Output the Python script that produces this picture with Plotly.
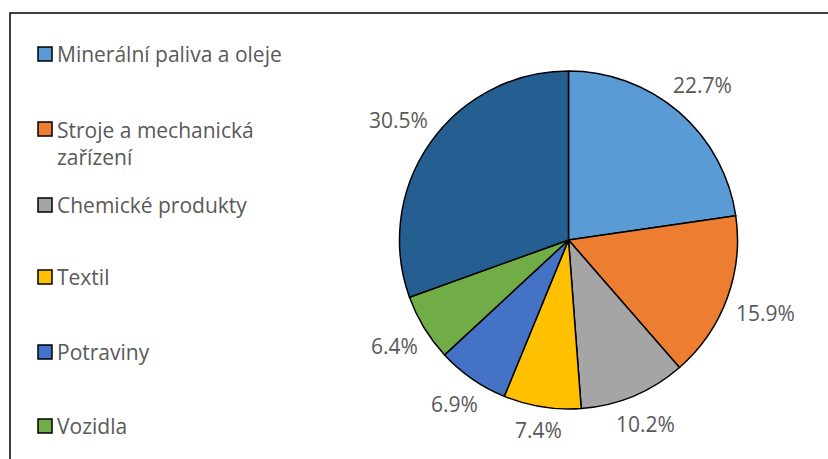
import math
import plotly.graph_objects as go

categories = ["Minerální paliva a oleje", "Stroje a mechanická zařízení", "Chemické produkty",
              "Textil", "Potraviny", "Vozidla", "Ostatní"]
legend_labels = ["Minerální paliva a oleje", "Stroje a mechanická<br>zařízení", "Chemické produkty",
                 "Textil", "Potraviny", "Vozidla"]
values = [22.7, 15.9, 10.2, 7.4, 6.9, 6.4, 30.5]
colors = ["#5B9BD5", "#ED7D31", "#A5A5A5", "#FFC000", "#4472C4", "#70AD47", "#255E91"]

W, H = 828, 459
FONT = "Open Sans"
FS = 21
TXT = "#595959"

# pie box in pixels
PX0, PX1, PY0, PY1 = 399, 738, 71, 409
cx, cy = (PX0 + PX1) / 2, (PY0 + PY1) / 2
R = (PX1 - PX0) / 2

fig = go.Figure()
fig.add_trace(go.Pie(
    labels=categories, values=values, sort=False, direction="clockwise", rotation=0,
    marker=dict(colors=colors, line=dict(color="black", width=1.5)),
    textinfo="none",
    showlegend=False, hoverinfo="label+value",
    domain=dict(x=[PX0 / W, PX1 / W], y=[1 - PY1 / H, 1 - PY0 / H]),
))

annotations = []
# data labels placed outside the slice ends
total = sum(values)
cum = 0.0
for v in values:
    mid = (cum + v / 2) / total * 2 * math.pi
    cum += v
    dx, dy = math.sin(mid), -math.cos(mid)
    txt = f"{v:.1f}%"
    ndig = sum(ch.isdigit() for ch in txt)
    tw = ndig * 0.572 * FS + 0.27 * FS + 0.82 * FS
    th = 20
    dist = R + 9 + abs(dx) * tw / 2 + abs(dy) * th / 2
    annotations.append(dict(xref="paper", yref="paper",
                            x=(cx + dx * dist) / W, y=1 - (cy + dy * dist) / H,
                            xanchor="center", yanchor="middle", showarrow=False,
                            text=txt, font=dict(family=FONT, size=FS, color=TXT)))

# manual legend (first six categories)
legend_y = [54, 129, 205, 277, 352, 426]
shapes = [dict(type="rect", xref="paper", yref="paper", x0=10 / W, x1=1.1, y0=-0.1, y1=1 - 13 / H,
               line=dict(color="black", width=1.5), fillcolor="rgba(0,0,0,0)")]
for lab, c, yy in zip(legend_labels, colors, legend_y):
    shapes.append(dict(type="rect", xref="paper", yref="paper",
                       x0=38 / W, x1=52 / W, y0=1 - (yy + 7) / H, y1=1 - (yy - 7) / H,
                       line=dict(color="black", width=1.5), fillcolor=c))
    nlines = lab.count("<br>") + 1
    ymid = yy + (nlines - 1) * 14.5
    annotations.append(dict(xref="paper", yref="paper", x=55 / W, y=1 - ymid / H,
                            xanchor="left", yanchor="middle", showarrow=False, align="left",
                            text=lab, font=dict(family=FONT, size=FS, color=TXT)))

fig.update_layout(
    width=W, height=H, margin=dict(l=0, r=0, t=0, b=0),
    paper_bgcolor="white", plot_bgcolor="white",
    shapes=shapes, annotations=annotations,
)
fig.write_html("out.html")
